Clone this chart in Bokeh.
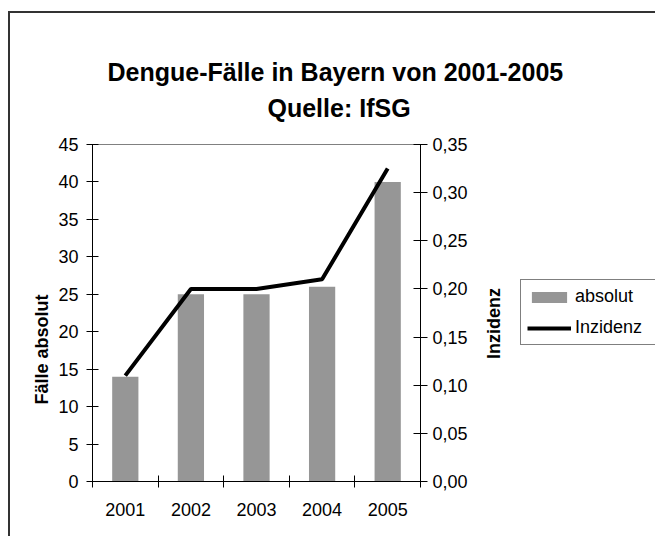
from bokeh.plotting import figure
from bokeh.layouts import row
from bokeh.models import (Range1d, LinearAxis, FixedTicker, CustomJSTickFormatter,
                          Title, Label, Legend, LegendItem, ColumnDataSource)
from bokeh.embed import file_html
from bokeh.resources import INLINE

# ---- data ----
years = ["2001", "2002", "2003", "2004", "2005"]
absolut = [14, 25, 25, 26, 40]
inzidenz = [0.11, 0.20, 0.20, 0.21, 0.325]
left_ticks = [0, 5, 10, 15, 20, 25, 30, 35, 40, 45]
right_ticks = [0.0, 0.05, 0.10, 0.15, 0.20, 0.25, 0.30, 0.35]

pos = list(range(1, len(years) + 1))
bounds = [x - 0.5 for x in pos] + [pos[-1] + 0.5]
src = ColumnDataSource(dict(x=pos, absolut=absolut, inzidenz=inzidenz))

FONT = "Liberation Sans"
BAR_COLOR = "#969696"
BORDER = "2px solid #333"
FW, FH = 326, 335

p = figure(frame_width=FW, frame_height=FH, output_backend="svg", toolbar_location=None,
           x_range=Range1d(bounds[0], bounds[-1]), y_range=Range1d(left_ticks[0], left_ticks[-1]),
           min_border_left=82, min_border_right=237, min_border_top=131, min_border_bottom=57,
           title=None)
p.margin = (11, 0, 0, 8)
p.styles = {"border-left": BORDER, "border-top": BORDER}
p.background_fill_color = "white"
p.border_fill_color = "white"
p.outline_line_color = "#808080"
p.outline_line_width = 1
p.xgrid.visible = False
p.ygrid.visible = False

p.extra_y_ranges = {"inz": Range1d(right_ticks[0], right_ticks[-1])}

bars = p.vbar(x="x", top="absolut", width=0.4, source=src,
              fill_color=BAR_COLOR, line_color=None)
line = p.line(x="x", y="inzidenz", source=src, y_range_name="inz",
              line_color="black", line_width=4)

# left axis
ya = p.yaxis[0]
ya.ticker = FixedTicker(ticks=left_ticks)
ya.major_tick_in = 6
ya.major_tick_out = 6
ya.minor_tick_line_color = None
ya.major_label_standoff = 8
ya.major_label_text_font = FONT
ya.major_label_text_font_size = "18px"
ya.major_label_text_color = "black"
ya.axis_line_color = "black"
ya.major_tick_line_color = "black"

# right axis
ra = LinearAxis(y_range_name="inz", ticker=FixedTicker(ticks=right_ticks),
                formatter=CustomJSTickFormatter(code="return tick.toFixed(2).replace('.', ',');"))
ra.major_tick_in = 7
ra.major_tick_out = 7
ra.minor_tick_line_color = None
ra.major_label_standoff = 5
ra.major_label_text_font = FONT
ra.major_label_text_font_size = "18px"
ra.major_label_text_color = "black"
ra.axis_line_color = "black"
ra.major_tick_line_color = "black"
p.add_layout(ra, "right")

# bottom axis
xa = p.xaxis[0]
xa.ticker = FixedTicker(ticks=pos, minor_ticks=bounds)
xa.major_label_overrides = {x: y for x, y in zip(pos, years)}
xa.major_tick_in = 0
xa.major_tick_out = 0
xa.minor_tick_in = 6
xa.minor_tick_out = 6
xa.minor_tick_line_color = "black"
xa.major_label_standoff = 15
xa.major_label_text_font = FONT
xa.major_label_text_font_size = "18px"
xa.major_label_text_color = "black"
xa.axis_line_color = "black"

# left axis title (side title so it can be offset along the axis)
p.add_layout(Title(text="Fälle absolut", align="left", offset=77, standoff=8,
                   text_font=FONT, text_font_style="bold", text_font_size="18px",
                   text_color="black"), "left")

# chart titles
p.add_layout(Title(text="Quelle: IfSG", align="left", offset=175, standoff=46,
                   text_font=FONT, text_font_style="bold", text_font_size="25px",
                   text_color="black"), "above")
p.add_layout(Title(text="Dengue-Fälle in Bayern von 2001-2005", align="left", offset=15,
                   standoff=-34,
                   text_font=FONT, text_font_style="bold", text_font_size="25px",
                   text_color="black"), "above")

# transparent overlay panel on the right: right-axis title and legend
QW = 185
q = figure(width=QW, height=523, output_backend="svg", toolbar_location=None,
           x_axis_location=None, y_axis_location=None, min_border=0,
           x_range=Range1d(0, QW), y_range=Range1d(0, FH), title=None)
q.margin = (11, 0, 0, -QW)
q.outline_line_color = None
q.background_fill_color = None
q.border_fill_color = None
q.grid.visible = False
lg_bar = q.vbar(x="x", top="absolut", width=0.4, source=src, visible=False,
                fill_color=BAR_COLOR, line_color=None)
lg_line = q.line(x="x", y="inzidenz", source=src, visible=False,
                 line_color="black", line_width=4)

q.add_layout(Label(x=23, y=154, text="Inzidenz", angle=90, angle_units="deg",
                   text_align="center", text_baseline="middle",
                   text_font=FONT, text_font_style="bold", text_font_size="18px",
                   text_color="black"))

legend = Legend(items=[LegendItem(label="absolut", renderers=[lg_bar]),
                       LegendItem(label="Inzidenz", renderers=[lg_line])],
                location=(50, 132), margin=0, padding=6, spacing=10,
                glyph_width=44, glyph_height=14, label_standoff=4, label_width=80,
                label_text_font=FONT, label_text_font_size="18px",
                label_text_color="black",
                border_line_color="black", border_line_width=1,
                background_fill_color="white", background_fill_alpha=1)
if hasattr(legend, "inactive_fill_alpha"):
    legend.inactive_fill_alpha = 0
q.add_layout(legend)

layout = row(p, q)
open("out.html", "w").write(file_html(layout, INLINE))
